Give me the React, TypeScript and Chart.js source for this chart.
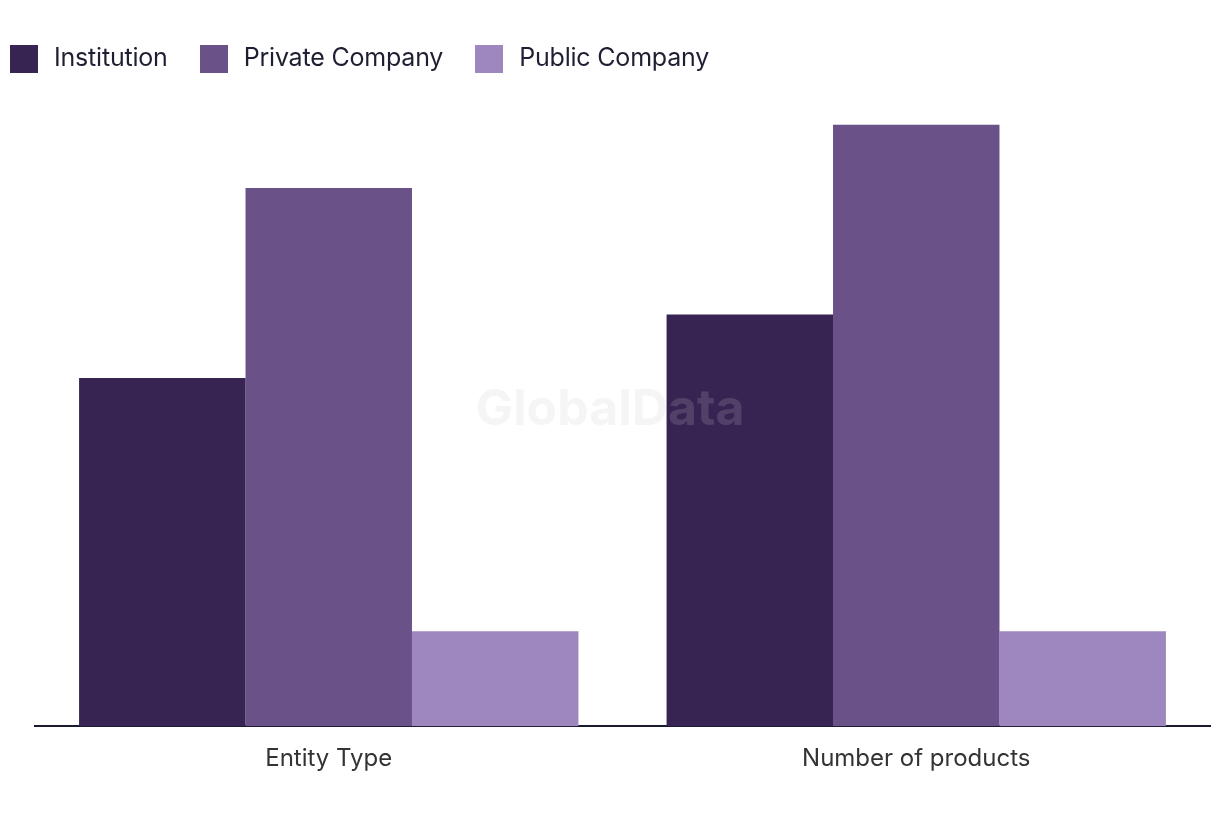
import React, { useEffect, useRef } from "react";
import { Chart, registerables } from "chart.js";

Chart.register(...registerables);

const categories = ["Entity Type", "Number of products"];
const institution = [11, 13];
const privateCompany = [17, 19];
const publicCompany = [3, 3];
const seriesNames = ["Institution", "Private Company", "Public Company"];
const colors = ["#372453", "#6a5289", "#9e87bf"];

const FONT = "Inter, 'Noto Sans', sans-serif";

const watermark = {
  id: "watermark",
  afterDatasetsDraw(chart: any) {
    const { ctx } = chart;
    ctx.save();
    ctx.font = `bold 50px ${FONT}`;
    ctx.fillStyle = "rgba(200,200,200,0.18)";
    ctx.textAlign = "center";
    ctx.textBaseline = "middle";
    ctx.fillText("GlobalData", 610, 410);
    ctx.restore();
  },
};

export default function App() {
  const ref = useRef<HTMLCanvasElement | null>(null);
  useEffect(() => {
    document.body.style.margin = "0";
    const chart = new Chart(ref.current as HTMLCanvasElement, {
      type: "bar",
      data: {
        labels: categories,
        datasets: [
          { label: seriesNames[0], data: institution, backgroundColor: colors[0] },
          { label: seriesNames[1], data: privateCompany, backgroundColor: colors[1] },
          { label: seriesNames[2], data: publicCompany, backgroundColor: colors[2] },
        ],
      },
      options: {
        animation: false,
        responsive: false,
        maintainAspectRatio: false,
        layout: { padding: { left: 35, right: 10, top: 93, bottom: 37 } },
        datasets: { bar: { categoryPercentage: 0.85, barPercentage: 1 } },
        plugins: {
          legend: { display: false },
          tooltip: { enabled: false },
        },
        scales: {
          x: {
            grid: { display: false },
            border: { display: true, color: "#1a1a2e", width: 2 },
            ticks: {
              color: "#333333",
              padding: 10,
              font: { family: FONT, size: 24 },
            },
          },
          y: { display: false, min: 0, max: 20 },
        },
      },
      plugins: [watermark],
    });
    return () => chart.destroy();
  }, []);
  return (
    <div style={{ position: "relative", width: 1220, height: 820 }}>
      <canvas ref={ref} width={1220} height={820} style={{ display: "block" }} />
      <div
        style={{
          position: "absolute",
          left: 10,
          top: 45,
          height: 28,
          display: "flex",
          alignItems: "center",
          fontFamily: FONT,
          fontSize: 25,
          letterSpacing: "-0.2px",
          color: "#1f1f33",
        }}
      >
        {seriesNames.map((name, i) => (
          <div key={name} style={{ display: "flex", alignItems: "center", marginRight: 32 }}>
            <span style={{ width: 28, height: 28, background: colors[i], display: "inline-block", marginRight: 16 }} />
            <span style={{ lineHeight: "28px", whiteSpace: "nowrap", position: "relative", top: -2 }}>{name}</span>
          </div>
        ))}
      </div>
    </div>
  );
}
